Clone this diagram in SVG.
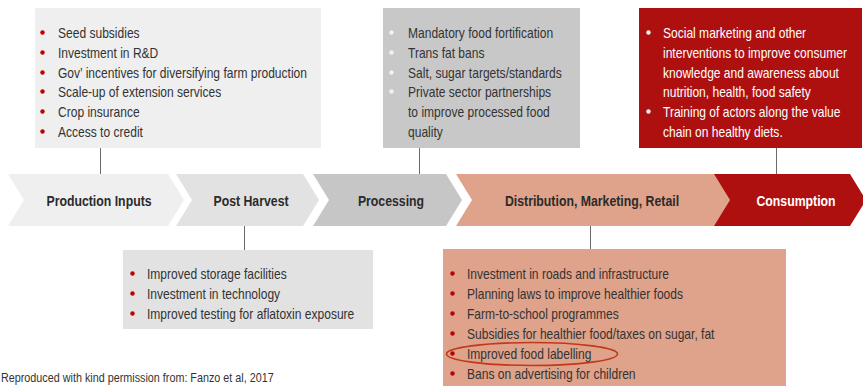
<svg xmlns="http://www.w3.org/2000/svg" width="863" height="386" viewBox="0 0 863 386">
<style>
.t{font-family:"Liberation Sans",Arial,sans-serif;font-size:14px;fill:#333333}
.w{fill:#ffffff}
.lab{font-family:"Liberation Sans",Arial,sans-serif;font-size:15px;font-weight:bold;fill:#2b2b2b;text-anchor:middle}
.foot{font-family:"Liberation Sans",Arial,sans-serif;font-size:13px;fill:#333333}
.conn{stroke:#6a6a6a;stroke-width:1;fill:none}
.rb{fill:#c00000}
.wb{fill:#f2f2f2}
</style>
<rect width="863" height="386" fill="#ffffff"/>

<g id="connectors">
<line class="conn" x1="100.5" y1="148" x2="100.5" y2="174"/>
<line class="conn" x1="419.5" y1="148" x2="419.5" y2="174"/>
<line class="conn" x1="776.5" y1="148" x2="776.5" y2="174"/>
<line class="conn" x1="244.5" y1="226" x2="244.5" y2="250"/>
<line class="conn" x1="590.5" y1="226" x2="590.5" y2="249"/>
</g>

<g id="box-production-inputs">
<rect x="35" y="8" width="286" height="140" fill="#efefef"/>
<g class="rb">
<circle cx="42.5" cy="32.5" r="2.2"/><circle cx="42.5" cy="52.5" r="2.2"/><circle cx="42.5" cy="72.5" r="2.2"/>
<circle cx="42.5" cy="91.5" r="2.2"/><circle cx="42.5" cy="111.5" r="2.2"/><circle cx="42.5" cy="131.5" r="2.2"/>
</g>
<g transform="translate(58,0) scale(0.86,1)">
<text class="t" x="0" y="38">Seed subsidies</text>
<text class="t" x="0" y="58">Investment in R&amp;D</text>
<text class="t" x="0" y="78">Gov’ incentives for diversifying farm production</text>
<text class="t" x="0" y="97">Scale-up of extension services</text>
<text class="t" x="0" y="117">Crop insurance</text>
<text class="t" x="0" y="137">Access to credit</text>
</g>
</g>

<g id="box-processing">
<rect x="383" y="8" width="197" height="140" fill="#c8c8c8"/>
<g class="wb">
<circle cx="391.5" cy="32.5" r="2.2"/><circle cx="391.5" cy="52.5" r="2.2"/><circle cx="391.5" cy="72.5" r="2.2"/><circle cx="391.5" cy="91.5" r="2.2"/>
</g>
<g transform="translate(408,0) scale(0.86,1)">
<text class="t" x="0" y="38">Mandatory food fortification</text>
<text class="t" x="0" y="58">Trans fat bans</text>
<text class="t" x="0" y="78">Salt, sugar targets/standards</text>
<text class="t" x="0" y="97">Private sector partnerships</text>
<text class="t" x="0" y="117">to improve processed food</text>
<text class="t" x="0" y="137">quality</text>
</g>
</g>

<g id="box-consumption">
<rect x="639" y="8" width="223" height="140" fill="#ae1010"/>
<g class="wb">
<circle cx="648.5" cy="32.5" r="2.2"/><circle cx="648.5" cy="111.5" r="2.2"/>
</g>
<g transform="translate(663,0) scale(0.86,1)">
<text class="t w" x="0" y="38">Social marketing and other</text>
<text class="t w" x="0" y="58">interventions to improve consumer</text>
<text class="t w" x="0" y="78">knowledge and awareness about</text>
<text class="t w" x="0" y="97">nutrition, health, food safety</text>
<text class="t w" x="0" y="117">Training of actors along the value</text>
<text class="t w" x="0" y="137">chain on healthy diets.</text>
</g>
</g>

<g id="chevron-production-inputs">
<polygon points="8,174 168,174 184,200 168,226 8,226 24,200" fill="#efefef"/>
<text class="lab" transform="translate(99,206) scale(0.82,1)">Production Inputs</text>
</g>
<g id="chevron-post-harvest">
<polygon points="176,174 303,174 319,200 303,226 176,226 192,200" fill="#e2e2e2"/>
<text class="lab" transform="translate(251,206) scale(0.82,1)">Post Harvest</text>
</g>
<g id="chevron-processing">
<polygon points="313,174 446,174 462,200 446,226 313,226 329,200" fill="#c6c6c6"/>
<text class="lab" transform="translate(391,206) scale(0.82,1)">Processing</text>
</g>
<g id="chevron-distribution">
<polygon points="456,174 718,174 734,200 718,226 456,226 472,200" fill="#dfa28a"/>
<text class="lab" transform="translate(592,206) scale(0.82,1)">Distribution, Marketing, Retail</text>
</g>
<g id="chevron-consumption">
<polygon points="714,174 850,174 866,200 850,226 714,226 730,200" fill="#ae1010"/>
<text class="lab" transform="translate(796,206) scale(0.82,1)" style="fill:#ffffff">Consumption</text>
</g>

<g id="box-post-harvest">
<rect x="123" y="250" width="250" height="79" fill="#e2e2e2"/>
<g class="rb">
<circle cx="132.5" cy="273.5" r="2.2"/><circle cx="132.5" cy="293.5" r="2.2"/><circle cx="132.5" cy="313.5" r="2.2"/>
</g>
<g transform="translate(147,0) scale(0.86,1)">
<text class="t" x="0" y="279">Improved storage facilities</text>
<text class="t" x="0" y="299">Investment in technology</text>
<text class="t" x="0" y="319">Improved testing for aflatoxin exposure</text>
</g>
</g>

<g id="box-distribution">
<rect x="443" y="249" width="343" height="140" fill="#dfa28a"/>
<g class="rb">
<circle cx="452.5" cy="273.5" r="2.2"/><circle cx="452.5" cy="293.5" r="2.2"/><circle cx="452.5" cy="313.5" r="2.2"/>
<circle cx="452.5" cy="333.5" r="2.2"/><circle cx="452.5" cy="353.5" r="2.2"/><circle cx="452.5" cy="373.5" r="2.2"/>
</g>
<g transform="translate(467,0) scale(0.86,1)">
<text class="t" x="0" y="279">Investment in roads and infrastructure</text>
<text class="t" x="0" y="299">Planning laws to improve healthier foods</text>
<text class="t" x="0" y="319">Farm-to-school programmes</text>
<text class="t" x="0" y="339">Subsidies for healthier food/taxes on sugar, fat</text>
<text class="t" x="0" y="359">Improved food labelling</text>
<text class="t" x="0" y="379">Bans on advertising for children</text>
</g>
<ellipse cx="532" cy="354" rx="85.5" ry="11.5" fill="none" stroke="#c0391b" stroke-width="1.6"/>
</g>

<g id="footer">
<text class="foot" transform="translate(1,382) scale(0.83,1)">Reproduced with kind permission from: Fanzo et al, 2017</text>
</g>
</svg>
